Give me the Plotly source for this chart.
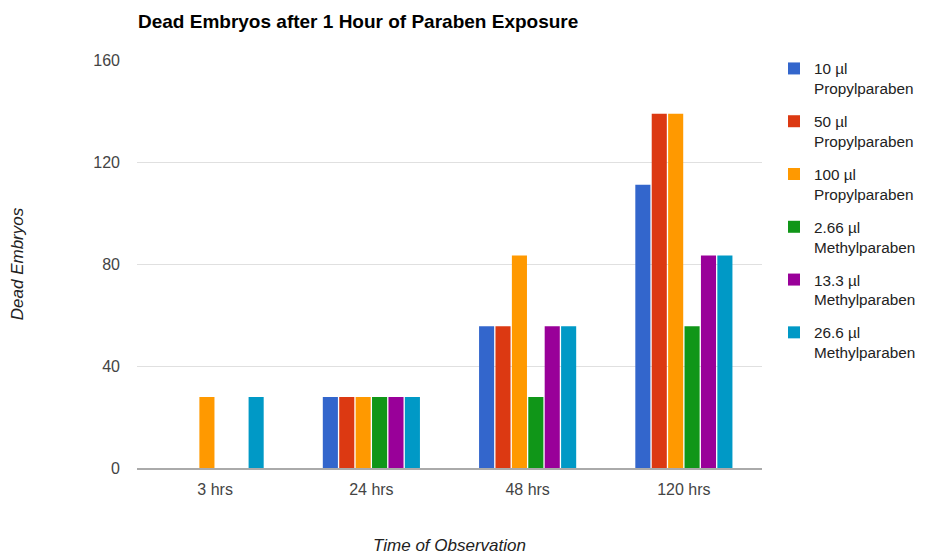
import plotly.graph_objects as go

categories = ["3 hrs", "24 hrs", "48 hrs", "120 hrs"]
series_names = ["10 µl<br>Propylparaben", "50 µl<br>Propylparaben", "100 µl<br>Propylparaben",
                "2.66 µl<br>Methylparaben", "13.3 µl<br>Methylparaben", "26.6 µl<br>Methylparaben"]
p10 = [0, 27.8, 55.6, 111.1]
p50 = [0, 27.8, 55.6, 138.9]
p100 = [27.8, 27.8, 83.3, 138.9]
m266 = [0, 27.8, 27.8, 55.6]
m133 = [0, 27.8, 55.6, 83.3]
m266b = [27.8, 27.8, 55.6, 83.3]
series_values = [p10, p50, p100, m266, m133, m266b]
colors = ["#3366cc", "#dc3912", "#ff9900", "#109618", "#990099", "#0099c6"]
y_ticks = [0, 40, 80, 120, 160]

fig = go.Figure()
for i, (name, vals) in enumerate(zip(series_names, series_values)):
    fig.add_trace(go.Bar(x=categories, y=vals, name=name, marker_color=colors[i],
                         marker_line_width=0, legendgroup=str(i)))

font = "Liberation Sans, Arial, sans-serif"
fig.update_layout(
    width=928, height=555,
    margin=dict(l=129, r=174, t=52, b=95, autoexpand=False),
    paper_bgcolor="white", plot_bgcolor="white",
    font=dict(family=font, size=16, color="#222"),
    barmode="group", bargap=0.37, bargroupgap=0.08,
    title=dict(text="<b>Dead Embryos after 1 Hour of Paraben Exposure</b>",
               x=130/928, xanchor="left", y=1-13/555, yanchor="middle",
               font=dict(size=19, color="#000")),
    legend=dict(xref="container", x=766/928, xanchor="left",
                yref="container", y=1-44/555, yanchor="top", valign="top",
                font=dict(size=15.3, color="#222"), tracegroupgap=10,
                itemwidth=30, maxheight=1.0),
    xaxis=dict(showgrid=False, showline=True, linecolor="#aaa", linewidth=2,
               tickfont=dict(color="#444", size=16), ticks="", ticklabelstandoff=6,
               automargin=False,
               title=dict(text="<i>Time of Observation</i>", standoff=42,
                          font=dict(size=17, color="#222"))),
    yaxis=dict(range=[0, 160], tickvals=y_ticks, showgrid=True, gridcolor="#e0e0e0",
               zeroline=False, ticks="", ticklabelstandoff=16, automargin=False,
               tickfont=dict(color="#444", size=16),
               title=dict(text="<i>Dead Embryos</i>", standoff=66,
                          font=dict(size=17, color="#222"))),
)
fig.write_html("out.html")
